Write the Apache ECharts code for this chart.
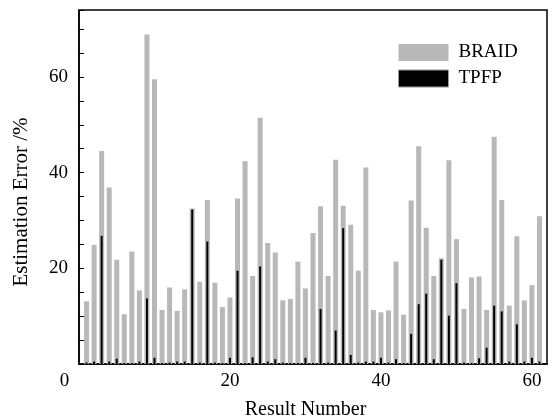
<!DOCTYPE html>
<html lang="en">
<head>
    <meta charset="UTF-8">
    <title>Estimation Error</title>
    <script type="text/javascript" src="https://cdn.jsdelivr.net/npm/echarts@6/dist/echarts.min.js"></script>
    <style>
        html, body { margin: 0; padding: 0; background: #fff; }
    </style>
</head>
<body>
<div id="main" style="width: 554px;height:419px;"></div>

<script type="text/javascript">
    // result number 1..61
    var resultNo = [];
    for (var i = 1; i <= 61; i++) resultNo.push(i);

    var braid = [13.1, 24.9, 44.5, 36.9, 21.8, 10.4, 23.5, 15.4, 68.9, 59.5,
                 11.3, 16.0, 11.1, 15.6, 32.5, 17.2, 34.3, 17.0, 11.9, 13.9,
                 34.6, 42.4, 18.4, 51.5, 25.3, 23.3, 13.3, 13.6, 21.4, 15.8,
                 27.4, 33.0, 18.4, 42.7, 33.1, 29.1, 19.5, 41.1, 11.3, 10.8,
                 11.2, 21.4, 10.3, 34.2, 45.5, 28.5, 18.4, 22.1, 42.6, 26.1,
                 11.5, 18.1, 18.3, 11.3, 47.5, 34.3, 12.2, 26.7, 13.3, 16.5,
                 30.9];
    var tpfp = [0.3, 0.5, 26.8, 0.5, 1.1, 0.2, 0.2, 0.5, 13.7, 1.3,
                0.2, 0.3, 0.5, 0.5, 32.3, 0.3, 25.6, 0.3, 0.2, 1.3,
                19.5, 0.2, 1.4, 20.4, 0.5, 1.0, 0.3, 0.2, 0.2, 1.3,
                0.2, 11.5, 0.3, 7.0, 28.4, 1.9, 0.3, 0.5, 0.5, 1.3,
                0.3, 1.0, 0.2, 6.3, 12.5, 14.7, 1.0, 21.8, 10.1, 16.9,
                0.3, 0.2, 1.2, 3.4, 12.2, 11.0, 0.5, 8.3, 0.5, 1.3,
                0.5];
    var xTicks = [0, 20, 40, 60];
    var yTicks = [20, 40, 60];

    function pairs(vals) {
        var out = [];
        for (var i = 0; i < vals.length; i++) out.push([resultNo[i], vals[i]]);
        return out;
    }

    var serif = 'Liberation Serif';
    var xAxisBase = {
        type: 'value',
        min: 0,
        max: 62,
        interval: 20,
        splitLine: {show: false},
        axisTick: {show: false}
    };

    var option = {
        backgroundColor: '#fff',
        animation: false,
        textStyle: {fontFamily: serif, color: '#000'},
        grid: {
            left: 79, top: 10, right: 7, bottom: 55,
            outerBoundsMode: 'none',
            show: true, borderColor: '#000', borderWidth: 1.5
        },
        legend: {
            orient: 'vertical',
            left: 393,
            top: 38,
            itemWidth: 50,
            itemHeight: 17,
            itemGap: 7,
            textStyle: {fontFamily: serif, fontSize: 19, lineHeight: 17, color: '#000', padding: [0, 0, 0, 5]},
            data: [
                {name: 'BRAID', icon: 'rect'},
                {name: 'TPFP', icon: 'rect', itemStyle: {color: '#000', borderColor: '#999', borderWidth: 1}}
            ]
        },
        xAxis: [Object.assign({}, xAxisBase, {
            name: 'Result Number',
            nameLocation: 'middle',
            nameGap: 36,
            nameTextStyle: {fontFamily: serif, fontSize: 20, color: '#000', padding: [0, 15, 0, 0]},
            axisLine: {lineStyle: {color: '#000', width: 1.5}},
            axisLabel: {
                margin: 8,
                fontFamily: serif,
                fontSize: 19,
                color: '#000',
                formatter: function (v) {
                    if (xTicks.indexOf(v) < 0) return '';
                    return v === 0 ? '{z|0}' : String(v);
                },
                rich: {z: {fontFamily: serif, fontSize: 19, color: '#000', padding: [0, 29, 0, 0]}}
            }
        }), Object.assign({}, xAxisBase, {
            show: false
        })],
        yAxis: {
            type: 'value',
            min: 0,
            max: 74,
            interval: 5,
            name: 'Estimation Error /%',
            nameLocation: 'middle',
            nameGap: 47,
            nameTextStyle: {fontFamily: serif, fontSize: 21, color: '#000', padding: [0, 30, 0, 0]},
            splitLine: {show: false},
            axisLine: {lineStyle: {color: '#000', width: 1.5}},
            axisTick: {inside: true, length: 5, lineStyle: {color: '#000'}},
            axisLabel: {
                margin: 11,
                fontFamily: serif,
                fontSize: 19,
                color: '#000',
                formatter: function (v) {
                    return yTicks.indexOf(v) >= 0 ? String(v) : '';
                }
            }
        },
        series: [
            {
                name: 'BRAID',
                type: 'bar',
                xAxisIndex: 0,
                barWidth: 5,
                itemStyle: {color: '#b8b8b8'},
                data: pairs(braid)
            },
            {
                name: 'TPFP',
                type: 'bar',
                xAxisIndex: 1,
                barWidth: 2,
                itemStyle: {color: '#000'},
                data: pairs(tpfp)
            }
        ]
    };

    var chart = echarts.init(document.getElementById('main'));
    chart.setOption(option);
</script>
</body>
</html>
